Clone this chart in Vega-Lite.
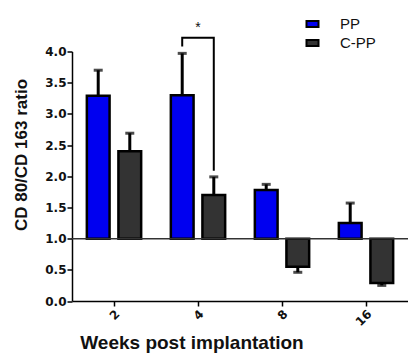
{
  "$schema": "https://vega.github.io/schema/vega-lite/v6.json",
  "autosize": {"type": "none"},
  "padding": {"left": 72, "top": 51.5, "right": 0, "bottom": 51.5},
  "width": 336,
  "height": 249.5,
  "config": {
    "view": {"stroke": null},
    "font": "Liberation Sans",
    "axis": {
      "grid": false,
      "labelFont": "DejaVu Sans", "labelFontWeight": "bold", "labelFontSize": 12, "labelColor": "#111111",
      "domainColor": "black", "domainWidth": 1.5, "tickColor": "black", "tickWidth": 1.5, "tickSize": 5,
      "titleFont": "Liberation Sans", "titleFontWeight": "bold", "titleColor": "#111111"
    },
    "axisX": {
      "titleFontSize": 19, "titleX": 119.5, "titleY": 47, "titleBaseline": "alphabetic", "titleAlign": "center",
      "labelAngle": -45, "labelPadding": 2
    },
    "axisY": {
      "format": ".1f", "labelOverlap": false, "labelPadding": 1,
      "titleFontSize": 17, "titleX": -51, "titleY": 103, "titleAngle": -90, "titleAlign": "center", "titleBaseline": "middle"
    }
  },
  "datasets": {
    "bars": [
      {"week": "2", "group": "PP", "value": 3.29, "err": 3.70},
      {"week": "2", "group": "C-PP", "value": 2.40, "err": 2.69},
      {"week": "4", "group": "PP", "value": 3.30, "err": 3.97},
      {"week": "4", "group": "C-PP", "value": 1.70, "err": 1.99},
      {"week": "8", "group": "PP", "value": 1.78, "err": 1.87},
      {"week": "8", "group": "C-PP", "value": 0.55, "err": 0.46},
      {"week": "16", "group": "PP", "value": 1.25, "err": 1.57},
      {"week": "16", "group": "C-PP", "value": 0.29, "err": 0.25}
    ],
    "bracket": [
      {"week": "4", "group": "PP", "value": 4.08, "ord": 1},
      {"week": "4", "group": "PP", "value": 4.22, "ord": 2},
      {"week": "4", "group": "C-PP", "value": 4.22, "ord": 3},
      {"week": "4", "group": "C-PP", "value": 2.09, "ord": 4}
    ],
    "star": [{"week": "4", "value": 4.38, "label": "*"}],
    "base": [{"value": 1}]
  },
  "layer": [
    {
      "data": {"name": "bars"},
      "mark": {"type": "bar", "stroke": "black", "strokeWidth": 2.5},
      "encoding": {
        "x": {
          "field": "week", "type": "nominal",
          "sort": ["2", "4", "8", "16"],
          "scale": {"domain": ["2", "4", "8", "16"], "paddingInner": 0, "paddingOuter": 0},
          "axis": {"title": "Weeks post implantation"}
        },
        "xOffset": {
          "field": "group", "type": "nominal",
          "scale": {"domain": ["PP", "C-PP"], "paddingInner": 0.28, "paddingOuter": 0.47}
        },
        "y": {
          "field": "value", "type": "quantitative",
          "scale": {"domain": [0, 4], "nice": false},
          "axis": {"values": [0, 0.5, 1, 1.5, 2, 2.5, 3, 3.5, 4], "title": "CD 80/CD 163 ratio"}
        },
        "y2": {"datum": 1},
        "color": {
          "field": "group", "type": "nominal",
          "scale": {"domain": ["PP", "C-PP"], "range": ["#0000f0", "#333333"]},
          "legend": {
            "orient": "none", "legendX": 233, "legendY": -35, "title": null, "padding": 0,
            "symbolType": "M-1,-0.5H1V0.5H-1Z", "symbolSize": 144,
            "symbolStrokeColor": "black", "symbolStrokeWidth": 2,
            "labelFont": "Liberation Sans", "labelFontSize": 15, "labelColor": "#111111",
            "labelOffset": 20, "rowPadding": 3
          }
        }
      }
    },
    {
      "data": {"name": "base"},
      "mark": {"type": "rule", "color": "#333333", "strokeWidth": 1.5},
      "encoding": {"y": {"field": "value", "type": "quantitative", "axis": {"values": [0, 0.5, 1, 1.5, 2, 2.5, 3, 3.5, 4], "title": "CD 80/CD 163 ratio"}}}
    },
    {
      "data": {"name": "bars"},
      "mark": {"type": "rule", "color": "black", "strokeWidth": 3},
      "encoding": {
        "x": {"field": "week", "type": "nominal", "axis": {"title": "Weeks post implantation"}},
        "xOffset": {"field": "group", "type": "nominal"},
        "y": {"field": "value", "type": "quantitative", "axis": {"values": [0, 0.5, 1, 1.5, 2, 2.5, 3, 3.5, 4], "title": "CD 80/CD 163 ratio"}},
        "y2": {"field": "err"}
      }
    },
    {
      "data": {"name": "bars"},
      "mark": {"type": "tick", "color": "black", "thickness": 3, "size": 9},
      "encoding": {
        "x": {"field": "week", "type": "nominal", "axis": {"title": "Weeks post implantation"}},
        "xOffset": {"field": "group", "type": "nominal"},
        "y": {"field": "err", "type": "quantitative", "axis": {"values": [0, 0.5, 1, 1.5, 2, 2.5, 3, 3.5, 4], "title": "CD 80/CD 163 ratio"}}
      }
    },
    {
      "data": {"name": "bracket"},
      "mark": {"type": "line", "color": "black", "strokeWidth": 2},
      "encoding": {
        "x": {"field": "week", "type": "nominal", "axis": {"title": "Weeks post implantation"}},
        "xOffset": {"field": "group", "type": "nominal"},
        "y": {"field": "value", "type": "quantitative", "axis": {"values": [0, 0.5, 1, 1.5, 2, 2.5, 3, 3.5, 4], "title": "CD 80/CD 163 ratio"}},
        "order": {"field": "ord", "type": "quantitative"}
      }
    },
    {
      "data": {"name": "star"},
      "mark": {"type": "text", "fontSize": 14, "font": "Liberation Sans", "baseline": "middle", "color": "#111111"},
      "encoding": {
        "x": {"field": "week", "type": "nominal", "axis": {"title": "Weeks post implantation"}},
        "y": {"field": "value", "type": "quantitative", "axis": {"values": [0, 0.5, 1, 1.5, 2, 2.5, 3, 3.5, 4], "title": "CD 80/CD 163 ratio"}},
        "text": {"field": "label"}
      }
    }
  ]
}
